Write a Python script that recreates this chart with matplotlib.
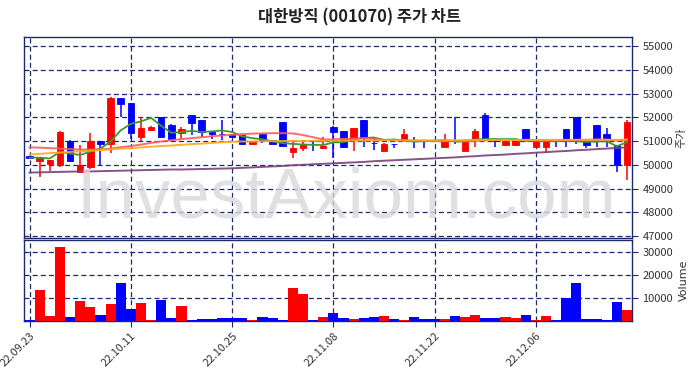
import matplotlib
matplotlib.use("Agg")
import matplotlib.pyplot as plt
import numpy as np
import pandas as pd

plt.rcParams['font.family'] = ['Noto Sans CJK KR', 'DejaVu Sans']

# ---------------- data ----------------
opens = [50350, 50170, 50050, 49980, 51000, 49700, 49920, 51000, 50860, 52800,
         52600, 51180, 51480, 52000, 51670, 51350, 52100, 51880, 51390, 51300,
         51280, 51250, 50860, 51280, 51040, 51800, 50550, 50690, 51000, 50690,
         51600, 51420, 51070, 51880, 50920, 50580, 50880, 51040, 51000, 51000,
         51000, 50760, 51000, 50560, 51040, 52100, 51000, 50840, 50840, 51510,
         50760, 50760, 51000, 51510, 52000, 50980, 51670, 51300, 50830, 50000]
highs = [50380, 50330, 50200, 51420, 51050, 50850, 51350, 51000, 52850, 52800,
         52600, 52000, 51650, 52000, 51700, 51600, 52100, 51880, 51400, 51880,
         51300, 51250, 51000, 51300, 51040, 51800, 51040, 51040, 51020, 51180,
         51620, 51420, 51550, 51900, 51110, 50900, 50880, 51490, 51180, 51000,
         51050, 51280, 52000, 51050, 51490, 52170, 51000, 51000, 51000, 51510,
         51000, 51000, 51000, 51510, 52000, 51100, 51670, 51560, 50850, 51880]
lows = [50250, 49500, 49750, 49900, 50150, 49700, 49820, 50000, 50480, 52000,
        51070, 51000, 51450, 51150, 51050, 51080, 51250, 51180, 51100, 51040,
        51150, 50850, 50860, 50900, 50860, 50780, 50300, 50580, 50580, 50650,
        50300, 50700, 50580, 50760, 50620, 50580, 50720, 51000, 50690, 50690,
        50950, 50760, 50860, 50560, 50760, 51000, 50760, 50800, 50800, 51040,
        50760, 50480, 50760, 50760, 50860, 50700, 50760, 50760, 49680, 49360]
closes = [50300, 50300, 50190, 51400, 50170, 50000, 51000, 50860, 52830, 52560,
          51350, 51530, 51600, 51180, 51070, 51510, 51770, 51390, 51280, 51280,
          51180, 50860, 51000, 51040, 50860, 50780, 50720, 50860, 50980, 50790,
          51370, 50760, 51530, 51180, 50900, 50860, 50860, 51280, 50980, 50980,
          50980, 50980, 50980, 50980, 51420, 51040, 50980, 50980, 50980, 51040,
          50980, 50980, 50980, 51040, 50980, 50840, 51040, 51040, 50000, 51810]
volumes = [600, 13300, 2000, 32200, 1600, 8550, 5900, 2460, 7250, 16500,
           5070, 7700, 430, 9000, 1160, 6400, 430, 720, 720, 1160,
           1160, 1160, 430, 1600, 1160, 430, 14200, 11600, 430, 1600,
           3330, 1160, 720, 1160, 1600, 2000, 720, 430, 1600, 720,
           720, 720, 2000, 1600, 2460, 1160, 1160, 1600, 1160, 2460,
           290, 2000, 290, 10000, 16400, 720, 720, 290, 8100, 4640]
ma_red = [50730, 50720, 50700, 50680, 50660, 50640, 50640, 50650, 50680, 50740,
          50790, 50850, 50920, 50980, 51030, 51080, 51120, 51160, 51200, 51230,
          51260, 51290, 51310, 51320, 51330, 51330, 51320, 51250, 51160, 51060,
          51070, 51090, 51100, 51110, 51090, 51050, 51030, 51020, 51010, 51010,
          51000, 50990, 51000, 50990, 51000, 51030, 51040, 51040, 51040, 51050,
          51040, 51030, 51030, 51040, 51050, 51050, 51060, 51060, 51020, 51030]
ma_orange = [50430, 50460, 50490, 50510, 50540, 50570, 50590, 50620, 50650, 50680,
             50700, 50730, 50760, 50790, 50810, 50840, 50870, 50890, 50920, 50950,
             50970, 50980, 50980, 50990, 50990, 51000, 51000, 51000, 51010, 51010,
             51010, 51020, 51020, 51020, 51020, 51030, 51030, 51030, 51030, 51030,
             51030, 51030, 51030, 51040, 51040, 51040, 51040, 51040, 51040, 51040,
             51040, 51050, 51050, 51050, 51050, 51050, 51050, 51050, 51050, 51060]
ma_purple = [49670, 49680, 49690, 49700, 49710, 49720, 49720, 49730, 49740, 49750,
             49760, 49770, 49780, 49790, 49800, 49800, 49810, 49820, 49830, 49840,
             49850, 49870, 49890, 49910, 49930, 49950, 49980, 50000, 50020, 50040,
             50060, 50080, 50100, 50120, 50150, 50170, 50190, 50210, 50230, 50250,
             50270, 50290, 50310, 50340, 50360, 50390, 50410, 50430, 50460, 50480,
             50510, 50530, 50560, 50580, 50610, 50630, 50660, 50680, 50710, 50730]
tick_idx = [0, 10, 20, 30, 40, 50]
tick_labels = ['22.09.23', '22.10.11', '22.10.25', '22.11.08', '22.11.22', '22.12.06']
price_ticks = [47000, 48000, 49000, 50000, 51000, 52000, 53000, 54000, 55000]
vol_ticks = [10000, 20000, 30000]
title = '대한방직 (001070) 주가 차트'

# ---------------- figure ----------------
W, H = 697, 378
fig = plt.figure(figsize=(W / 100, H / 100), dpi=100)
fig.patch.set_facecolor('white')

navy = '#1a2a6c'
up_c = '#ff0000'
dn_c = '#0000ff'

ax = fig.add_axes([24 / W, 1 - 238 / H, (632 - 24) / W, (238 - 37) / H])
axv = fig.add_axes([24 / W, 1 - 321 / H, (632 - 24) / W, (321 - 240) / H], sharex=ax)

df = pd.DataFrame({'o': opens, 'h': highs, 'l': lows, 'c': closes, 'v': volumes})
x = np.arange(len(df))
ma5 = df['c'].rolling(5, min_periods=1).mean()
colors = [up_c if c >= o else dn_c for o, c in zip(df['o'], df['c'])]

# watermark
fig.text(0.497, 1 - 217 / H, 'InvestAxiom.com', fontsize=51, color='#d9d7da',
         ha='center', va='baseline', family='Liberation Sans', zorder=0, alpha=0.8)
ax.patch.set_alpha(0)
axv.patch.set_alpha(0)

# candles
body_w = 0.64
for xi, o, h, l, c, col in zip(x, df['o'], df['h'], df['l'], df['c'], colors):
    ax.vlines(xi, l, h, color=col, lw=1.1, zorder=3)
    bottom = min(o, c)
    height = max(abs(c - o), 25)
    ax.bar(xi, height, body_w, bottom=bottom, color=col, edgecolor=col, lw=0.6, zorder=4)

ax.plot(x, ma5, color='#3a9a30', lw=1.3, zorder=5)
ax.plot(x, ma_red, color='#ff5a5a', lw=1.4, zorder=5, alpha=0.9)
ax.plot(x, ma_orange, color='#ffa81a', lw=1.4, zorder=5, alpha=0.9)
ax.plot(x, ma_purple, color='#7a3f7a', lw=1.4, zorder=5, alpha=0.9)

# volume
axv.bar(x, df['v'], 1.0, color=colors, lw=0, zorder=3)

# axes styling
grid_kw = dict(color=navy, ls=(0, (4, 2.5)), lw=0.9)
for a in (ax, axv):
    a.grid(True, **grid_kw)
    a.set_axisbelow(False)
    for s in a.spines.values():
        s.set_color(navy)
        s.set_linewidth(1.0)
    a.yaxis.tick_right()
    a.yaxis.set_label_position('right')
    a.tick_params(axis='y', colors='#333333', labelsize=8, length=4, direction='out')
    a.tick_params(axis='y', color=navy)

ax.set_xlim(-0.55, 59.5)
ax.set_ylim(46916, 55380)
ax.set_yticks(price_ticks)
ax.set_ylabel('주가', fontsize=8, color='#333333', labelpad=2)
ax.tick_params(axis='x', labelbottom=False, length=0)

axv.set_ylim(0, 35200)
axv.set_yticks(vol_ticks)
axv.set_ylabel('Volume', fontsize=8, color='#333333', labelpad=4, family='DejaVu Sans')
axv.set_xticks(tick_idx)
axv.set_xticklabels(tick_labels, rotation=45, ha='right', va='top', rotation_mode='anchor',
                    fontsize=8, color='#333333')
axv.tick_params(axis='x', length=4, color=navy, pad=3)

fig.text(0.516, 1 - 17 / H, title, fontsize=11.8, fontweight='bold', ha='center', va='center',
         color='#222222')

fig.savefig('out.png', dpi=100)
